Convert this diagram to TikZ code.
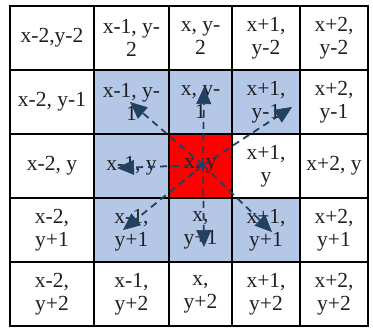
\documentclass[tikz,border=0pt]{standalone}
\usepackage{fontspec}
\setmainfont{Liberation Serif}
\usetikzlibrary{arrows.meta,calc}
\definecolor{cellblue}{HTML}{B4C7E7}
\definecolor{cellred}{HTML}{FF0000}
\definecolor{arrowblue}{HTML}{22405F}
\tikzset{
  cell/.style={draw=black, line width=2.6pt, minimum height=64pt, inner sep=0pt, align=center,
    font=\fontsize{21.5}{23}\selectfont, text=black!88},
  wA/.style={minimum width=84pt}, wB/.style={minimum width=75pt}, wC/.style={minimum width=63pt},
  wD/.style={minimum width=68pt}, wE/.style={minimum width=68pt},
  bl/.style={fill=cellblue}, rd/.style={fill=cellred},
  nbr/.style={draw=arrowblue, line width=1.8pt, dash pattern=on 7pt off 5pt, shorten >=10pt},
  headtip/.style={draw=arrowblue, fill=arrowblue, line width=0.6pt, solid,
    -{Triangle[length=17pt,width=15pt]}}
}
\begin{document}
\begin{tikzpicture}[x=1pt,y=1pt]
\useasboundingbox (0,0) rectangle (373,329);
% row y-2
\node[cell,wA] (c00) at (52,291) {x-2,y-2};
\node[cell,wB] (c01) at (131.5,291) {x-1, y-\\2};
\node[cell,wC] (c02) at (200.5,291) {x, y-\\2};
\node[cell,wD] (c03) at (266,291) {x+1,\\y-2};
\node[cell,wE] (c04) at (334,291) {x+2,\\y-2};
% row y-1
\node[cell,wA] (c10) at (52,227) {x-2, y-1};
\node[cell,wB,bl] (c11) at (131.5,227) {x-1, y-\\1};
\node[cell,wC,bl] (c12) at (200.5,227) {x, y-\\1};
\node[cell,wD,bl] (c13) at (266,227) {x+1,\\y-1};
\node[cell,wE] (c14) at (334,227) {x+2,\\y-1};
% row y
\node[cell,wA] (c20) at (52,163) {x-2, y};
\node[cell,wB,bl] (c21) at (131.5,163) {x-1, y};
\node[cell,wC,rd] (c22) at (200.5,163) {x, y};
\node[cell,wD] (c23) at (266,163) {x+1,\\y};
\node[cell,wE] (c24) at (334,163) {x+2, y};
% row y+1
\node[cell,wA] (c30) at (52,99) {x-2,\\y+1};
\node[cell,wB,bl] (c31) at (131.5,99) {x-1,\\y+1};
\node[cell,wC,bl] (c32) at (200.5,99) {x,\\y+1};
\node[cell,wD,bl] (c33) at (266,99) {x+1,\\y+1};
\node[cell,wE] (c34) at (334,99) {x+2,\\y+1};
% row y+2
\node[cell,wA] (c40) at (52,35) {x-2,\\y+2};
\node[cell,wB] (c41) at (131.5,35) {x-1,\\y+2};
\node[cell,wC] (c42) at (200.5,35) {x,\\y+2};
\node[cell,wD] (c43) at (266,35) {x+1,\\y+2};
\node[cell,wE] (c44) at (334,35) {x+2,\\y+2};
% arrow ends
\coordinate (o) at (203,164);
\coordinate (tUL) at (130,227);
\coordinate (tU) at (204,242);
\coordinate (tUR) at (292,222);
\coordinate (tL) at (117,161);
\coordinate (tLL) at (123,99);
\coordinate (tD) at (204,82);
\coordinate (tLR) at (272,97);
\foreach \t in {tUL,tU,tUR,tL,tLL,tD,tLR} {
  \draw[nbr] (o) -- (\t);
  \draw[headtip] ($(\t)!16pt!(o)$) -- (\t);
}
\end{tikzpicture}
\end{document}
